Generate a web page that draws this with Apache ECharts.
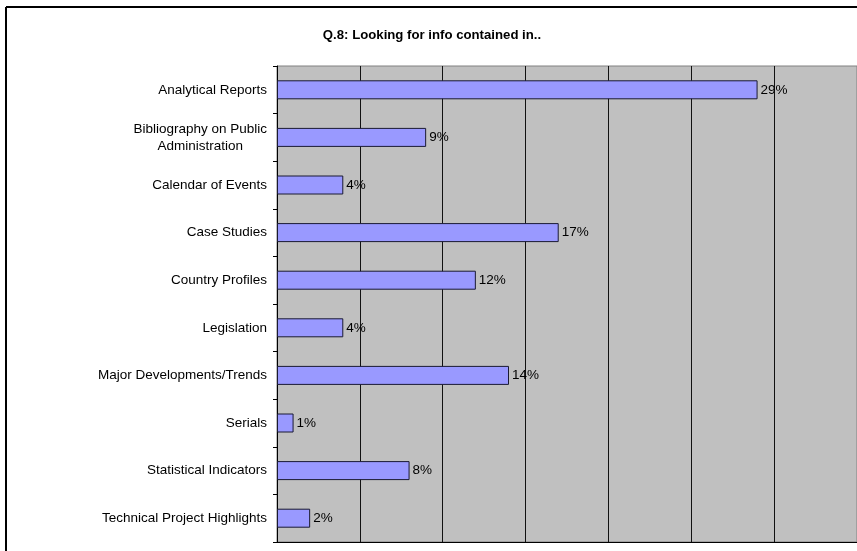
<!DOCTYPE html>
<html>
<head>
<meta charset="utf-8">
<script src="https://cdn.jsdelivr.net/npm/echarts@6/dist/echarts.min.js"></script>
<style>
  html, body { margin: 0; padding: 0; background: #fff; }
  #chart { width: 857px; height: 551px; }
</style>
</head>
<body>
<div id="chart"></div>
<script>
const titleText = 'Q.8: Looking for info contained in..';
const categories = [
  'Analytical Reports',
  'Bibliography on Public\nAdministration',
  'Calendar of Events',
  'Case Studies',
  'Country Profiles',
  'Legislation',
  'Major Developments/Trends',
  'Serials',
  'Statistical Indicators',
  'Technical Project Highlights'
];
const values = [29, 9, 4, 17, 12, 4, 14, 1, 8, 2];

const chart = echarts.init(document.getElementById('chart'), null, { renderer: 'canvas' });
const font = 'Liberation Sans, Arial, sans-serif';

chart.setOption({
  animation: false,
  backgroundColor: '#fff',
  title: {
    text: titleText,
    left: 427,
    top: 24,
    textAlign: 'center',
    textStyle: { fontFamily: font, fontSize: 13.2, fontWeight: 'bold', color: '#000' }
  },
  graphic: [
    { type: 'line', shape: { x1: 6, y1: 7, x2: 857, y2: 7 }, style: { stroke: '#000', lineWidth: 2 } },
    { type: 'line', shape: { x1: 6, y1: 7, x2: 6, y2: 551 }, style: { stroke: '#000', lineWidth: 2 } }
  ],
  grid: {
    left: 277, top: 66, right: -1, bottom: 9,
    show: true,
    backgroundColor: '#C0C0C0',
    borderColor: '#808080',
    borderWidth: 1
  },
  xAxis: {
    type: 'value',
    min: 0, max: 35, interval: 5,
    axisLabel: { show: false },
    axisTick: { show: false },
    axisLine: { show: true, lineStyle: { color: '#000', width: 1 } },
    splitLine: { show: true, lineStyle: { color: '#111', width: 1 } }
  },
  yAxis: {
    type: 'category',
    inverse: true,
    data: categories,
    axisLine: { show: true, lineStyle: { color: '#000', width: 1 } },
    axisTick: { show: true, length: 4, alignWithLabel: false, lineStyle: { color: '#000' } },
    axisLabel: {
      margin: 10,
      fontFamily: font,
      fontSize: 13.5,
      color: '#000',
      lineHeight: 17,
      formatter: function (v) {
        return v.split('\n').map(function (s) { return '{c|' + s + '}'; }).join('\n');
      },
      rich: { c: { align: 'center', fontFamily: font, fontSize: 13.5, color: '#000', lineHeight: 17 } }
    }
  },
  series: [{
    type: 'bar',
    data: values,
    barWidth: 19,
    itemStyle: { color: '#9999FF', borderColor: '#1a1a33', borderWidth: 1 },
    label: {
      show: true,
      position: 'right',
      distance: 3,
      formatter: '{c}%',
      fontFamily: font,
      fontSize: 13.5,
      color: '#000'
    }
  }]
});
</script>
</body>
</html>
